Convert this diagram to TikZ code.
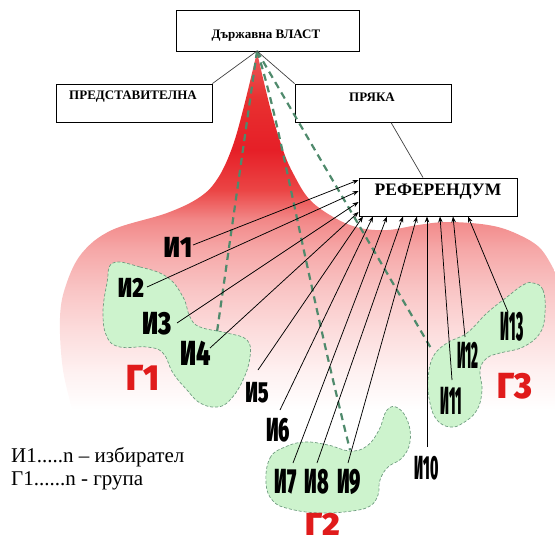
\documentclass[tikz,border=0pt]{standalone}
\usepackage{fontspec}
\usepackage{graphicx}
\setmainfont{Liberation Serif}
\newfontfamily\vfont{Fira Sans Black}
\usetikzlibrary{arrows.meta}
\definecolor{rA}{HTML}{EC5A5A}
\definecolor{rB}{HTML}{E83030}
\definecolor{rC}{HTML}{E61F27}
\definecolor{rD}{HTML}{EB4545}
\definecolor{rE}{HTML}{F28888}
\definecolor{rF}{HTML}{F6A8A8}
\definecolor{rG}{HTML}{F9C5C5}
\definecolor{rH}{HTML}{FCDCDC}
\definecolor{rI}{HTML}{FEF0F0}
\definecolor{gfill}{HTML}{CDF3CD}
\definecolor{gline}{HTML}{6F9C80}
\definecolor{dashc}{HTML}{4F8A6C}
\definecolor{glabc}{HTML}{E01B1B}
\pgfdeclareverticalshading{redfade}{100bp}{color(0bp)=(white); color(26.4bp)=(white); color(31.8bp)=(rI); color(37.2bp)=(rH); color(42.7bp)=(rG); color(48.1bp)=(rF); color(52.2bp)=(rE); color(56.25bp)=(rD); color(61.7bp)=(rC); color(68.5bp)=(rB); color(75bp)=(rA); color(100bp)=(rA)}
\newcommand{\vlab}[3]{\scalebox{#1}[#2]{#3}}
\begin{document}
\begin{tikzpicture}[x=1pt,y=-1pt,
  box/.style={draw=black, line width=0.9pt, fill=white, inner sep=0pt},
  btext/.style={inner sep=0pt},
  voter/.style={font=\vfont\fontsize{29}{29}\selectfont, inner sep=0pt, text=black},
  grp/.style={font=\vfont\fontsize{29}{29}\selectfont, inner sep=0pt, text=glabc},
  blob/.style={fill=gfill, draw=gline, line width=0.7pt, dash pattern=on 3pt off 2pt},
  dline/.style={draw=dashc, line width=2.2pt, dash pattern=on 7pt off 5pt},
  arr/.style={draw=black, line width=0.75pt, -{Stealth[length=6pt,width=4.5pt]}},
  link/.style={draw=black!75, line width=0.7pt},
  legend/.style={font=\fontsize{21}{23}\selectfont, inner sep=0pt, anchor=base west}
]
\useasboundingbox (0,0) rectangle (555,543);

% red fan shape
\shade[shading=redfade] (75,420) -- plot[smooth, tension=0.6] coordinates {(75,420) (63,370) (60,318) (66,285) (82,253) (112,230) (167,213) (200,197) (218,178) (232,148) (243,110) (257,52)} -- plot[smooth, tension=0.6] coordinates {(257,52) (270,107) (283,150) (294,175) (310,200) (335,218) (360,228) (388,230) (418,225) (448,222) (488,225) (515,233) (540,248) (555,272)} -- (555,420) -- cycle;

% green groups
\path[blob] plot[smooth cycle, tension=0.7] coordinates {(113,263) (140,267) (167,277) (183,297) (190,317) (200,327) (227,333) (247,340) (250,357) (243,380) (230,400) (217,407) (200,403) (187,390) (173,373) (163,353) (147,347) (120,347) (107,337) (103,313) (107,283)};
\path[blob] plot[smooth cycle, tension=0.7] coordinates {(266,483) (270,458) (285,447) (305,442) (328,445) (350,451) (367,446) (379,430) (387,410) (398,408) (408,422) (410,442) (402,458) (388,467) (380,480) (378,495) (370,506) (352,511) (320,513) (290,509) (273,501)};
\path[blob] plot[smooth cycle, tension=0.7] coordinates {(533,283) (543,290) (545,313) (540,333) (523,347) (500,353) (487,358) (480,370) (482,390) (477,410) (463,423) (450,427) (437,420) (430,403) (428,380) (433,357) (447,343) (467,333) (487,313) (507,297) (523,285)};

% boxes
\node[box, minimum width=183pt, minimum height=41pt] (dv) at (267.5,30.5) {};
\node[box, minimum width=156pt, minimum height=38pt] (pr) at (134,103) {};
\node[box, minimum width=156pt, minimum height=38pt] (pk) at (373,103) {};
\node[box, minimum width=158pt, minimum height=38pt] (ref) at (438,197) {};

\coordinate (apex) at (257,51);
\coordinate (g1t) at (217,332);
\coordinate (g2t) at (350,450);
\coordinate (g3l) at (432,350);

% dashed green lines
\draw[dline] (apex) -- (g1t);
\draw[dline] (apex) .. controls (280,120) and (300,250) .. (g2t);
\draw[dline] (apex) -- (g3l);

% links between boxes
\draw[link] (apex) -- (pr.north east);
\draw[link] (apex) -- (pk.north west);
\draw[link] ([xshift=18pt]pk.south) -- ([xshift=-15pt]ref.north);

% box texts
\node[btext, font=\bfseries\fontsize{13}{15}\selectfont] (dvt) at (266,36) {Държавна ВЛАСТ};
\node[btext, font=\bfseries\fontsize{13}{15}\selectfont] (prt) at (133,97) {ПРЕДСТАВИТЕЛНА};
\node[btext, font=\bfseries\fontsize{13}{15}\selectfont] (pkt) at (372,97) {ПРЯКА};
\node[btext, font=\bfseries\fontsize{17.5}{19}\selectfont] (reft) at (438,192) {РЕФЕРЕНДУМ};

% voters
\node[voter] (v1) at (178,247) {\vlab{0.87}{1.0}{И1}};
\node[voter] (v2) at (131,288) {\vlab{0.76}{0.95}{И2}};
\node[voter] (v3) at (157,324) {\vlab{0.85}{1.1}{И3}};
\node[voter] (v4) at (196,353) {\vlab{0.85}{1.2}{И4}};
\node[voter] (v5) at (257,393) {\vlab{0.67}{1.0}{И5}};
\node[voter] (v6) at (278,430) {\vlab{0.67}{1.15}{И6}};
\node[voter] (v7) at (286,482) {\vlab{0.67}{1.2}{И7}};
\node[voter] (v8) at (317,482) {\vlab{0.67}{1.2}{И8}};
\node[voter] (v9) at (349,482) {\vlab{0.67}{1.2}{И9}};
\node[voter] (v10) at (427,468) {\vlab{0.48}{1.15}{И10}};
\node[voter] (v11) at (451,401) {\vlab{0.47}{1.35}{И11}};
\node[voter] (v12) at (468,355) {\vlab{0.45}{1.3}{И12}};
\node[voter] (v13) at (512,327) {\vlab{0.47}{1.4}{И13}};

% groups
\node[grp] (gr1) at (143,378) {\vlab{1.15}{1.25}{Г1}};
\node[grp] (gr2) at (323,524) {\vlab{1.15}{1.1}{Г2}};
\node[grp] (gr3) at (515,386) {\vlab{1.15}{1.25}{Г3}};

% arrow start points
\coordinate (s1) at (193,245);
\coordinate (s2) at (147,287);
\coordinate (s3) at (177,323);
\coordinate (s4) at (210,348);
\coordinate (s5) at (258,370);
\coordinate (s6) at (280,410);
\coordinate (s7) at (293,463);
\coordinate (s8) at (317,463);
\coordinate (s9) at (348,463);
\coordinate (s10) at (427,447);
\coordinate (s11) at (452,380);
\coordinate (s12) at (465,337);
\coordinate (s13) at (508,312);

\draw[arr] (s1) -- ([yshift=17pt]ref.west);
\draw[arr] (s2) -- ([yshift=6pt]ref.west);
\draw[arr] (s3) -- ([yshift=-5pt]ref.west);
\draw[arr] (s4) -- ([yshift=-15pt]ref.west);
\draw[arr] (s5) -- ([xshift=-75pt]ref.south);
\draw[arr] (s6) -- ([xshift=-65pt]ref.south);
\draw[arr] (s7) -- ([xshift=-51pt]ref.south);
\draw[arr] (s8) -- ([xshift=-35pt]ref.south);
\draw[arr] (s9) -- ([xshift=-21pt]ref.south);
\draw[arr] (s10) -- ([xshift=-11pt]ref.south);
\draw[arr] (s11) -- ([xshift=2pt]ref.south);
\draw[arr] (s12) -- ([xshift=15pt]ref.south);
\draw[arr] (s13) -- ([xshift=30pt]ref.south);

% legend
\node[legend] (lg1) at (11,462) {И1.....n – избирател};
\node[legend] (lg2) at (11,485) {Г1......n - група};
\end{tikzpicture}
\end{document}
